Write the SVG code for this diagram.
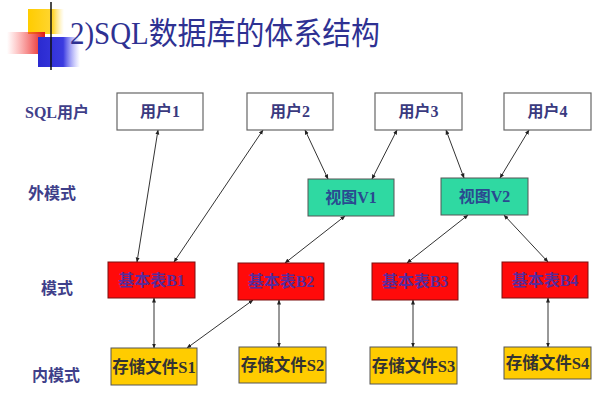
<svg xmlns="http://www.w3.org/2000/svg" width="600" height="410" viewBox="0 0 600 410">
<defs>
<linearGradient id="gRed" x1="0" y1="0" x2="1" y2="0"><stop offset="0" stop-color="#ff4040" stop-opacity="0"/><stop offset="1" stop-color="#e01818"/></linearGradient>
<linearGradient id="gYel" x1="0" y1="0" x2="1" y2="0"><stop offset="0" stop-color="#ffcc00"/><stop offset="0.7" stop-color="#ffd633"/><stop offset="1" stop-color="#ffe680" stop-opacity="0"/></linearGradient>
<linearGradient id="gBlue" x1="0" y1="0" x2="1" y2="0"><stop offset="0" stop-color="#2a2ad0"/><stop offset="0.6" stop-color="#3b3be0"/><stop offset="1" stop-color="#8080ff" stop-opacity="0"/></linearGradient>
<linearGradient id="gLine" x1="0" y1="0" x2="1" y2="0"><stop offset="0" stop-color="#333"/><stop offset="0.5" stop-color="#888"/><stop offset="1" stop-color="#ccc" stop-opacity="0"/></linearGradient>
<marker id="ah" viewBox="0 0 10 10" refX="9" refY="5" markerWidth="5" markerHeight="5" orient="auto-start-reverse" markerUnits="userSpaceOnUse"><path d="M0,1 L10,5 L0,9 z" fill="#222"/></marker>
</defs>
<style>
.title{font-family:"Liberation Serif","Noto Sans CJK SC",serif;font-size:31px;fill:#2e3192}
.row{font-family:"Liberation Serif","Noto Sans CJK SC",serif;font-weight:bold;font-size:16px;fill:#3f3f8a;text-anchor:middle}
.lbl{font-family:"Liberation Serif","Noto Sans CJK SC",serif;font-weight:bold;font-size:16px;text-anchor:middle}
.user rect{fill:#fff;stroke:#666;stroke-width:1.2}
.user text{fill:#3a3a80}
.view rect{fill:#2fd9a2;stroke:#555;stroke-width:1}
.view text{fill:#2a4a90}
.base rect{fill:#ff0a0a;stroke:#7a1010;stroke-width:1}
.base text{fill:#5a2a9a}
.file rect{fill:#ffcc00;stroke:#555;stroke-width:1}
.file text{fill:#333;font-size:16.5px}
.conn line{stroke:#333;stroke-width:1;marker-start:url(#ah);marker-end:url(#ah)}
</style>
<rect width="600" height="410" fill="#fff"/>
<g id="decor">
<rect x="28" y="9" width="36" height="25" fill="url(#gYel)"/>
<rect x="7" y="32" width="38" height="22" fill="url(#gRed)"/>
<rect x="38" y="37" width="42" height="30" fill="url(#gBlue)"/>
<line x1="29" y1="54.5" x2="600" y2="54.5" stroke="url(#gLine)" stroke-width="1.5"/>
<line x1="51" y1="2" x2="51" y2="70" stroke="#111" stroke-width="1.5"/>
</g>
<text class="title" x="70" y="44" textLength="310" lengthAdjust="spacingAndGlyphs">2)SQL数据库的体系结构</text>
<g id="rows">
<text class="row" x="57" y="118">SQL用户</text>
<text class="row" x="52" y="199">外模式</text>
<text class="row" x="57" y="294">模式</text>
<text class="row" x="56" y="381">内模式</text>
</g>
<g id="connectors" class="conn">
<line x1="158" y1="130" x2="137" y2="262"/>
<line x1="263" y1="130" x2="174" y2="262"/>
<line x1="305" y1="130" x2="328" y2="179"/>
<line x1="397" y1="130" x2="372" y2="179"/>
<line x1="446" y1="130" x2="464" y2="178"/>
<line x1="529" y1="130" x2="500" y2="178"/>
<line x1="345" y1="216" x2="285" y2="263"/>
<line x1="468" y1="215" x2="407" y2="263"/>
<line x1="504" y1="215" x2="548" y2="262"/>
<line x1="154" y1="298" x2="154" y2="348"/>
<line x1="253" y1="300" x2="187" y2="348"/>
<line x1="279" y1="300" x2="279" y2="347"/>
<line x1="413" y1="300" x2="413" y2="347"/>
<line x1="548" y1="298" x2="548" y2="347"/>
</g>
<g id="user1" class="user"><rect x="117" y="93" width="86" height="37"/><text class="lbl" x="160" y="117">用户1</text></g>
<g id="user2" class="user"><rect x="247" y="93" width="86" height="37"/><text class="lbl" x="290" y="117">用户2</text></g>
<g id="user3" class="user"><rect x="375" y="93" width="87" height="37"/><text class="lbl" x="418.5" y="117">用户3</text></g>
<g id="user4" class="user"><rect x="504" y="93" width="87" height="37"/><text class="lbl" x="547.5" y="117">用户4</text></g>
<g id="v1" class="view"><rect x="308" y="179" width="86" height="37"/><text class="lbl" x="351" y="203">视图V1</text></g>
<g id="v2" class="view"><rect x="441" y="178" width="87" height="37"/><text class="lbl" x="484.5" y="202">视图V2</text></g>
<g id="b1" class="base"><rect x="108" y="262" width="87" height="36"/><text class="lbl" x="151.5" y="286">基本表B1</text></g>
<g id="b2" class="base"><rect x="238" y="263" width="86" height="37"/><text class="lbl" x="281" y="287">基本表B2</text></g>
<g id="b3" class="base"><rect x="372" y="263" width="86" height="37"/><text class="lbl" x="415" y="287">基本表B3</text></g>
<g id="b4" class="base"><rect x="502" y="262" width="86" height="36"/><text class="lbl" x="545" y="286">基本表B4</text></g>
<g id="s1" class="file"><rect x="111" y="348" width="86" height="37"/><text class="lbl" x="154" y="373">存储文件S1</text></g>
<g id="s2" class="file"><rect x="239" y="347" width="87" height="36"/><text class="lbl" x="282.5" y="371">存储文件S2</text></g>
<g id="s3" class="file"><rect x="370" y="347" width="87" height="37"/><text class="lbl" x="413.5" y="372">存储文件S3</text></g>
<g id="s4" class="file"><rect x="504" y="347" width="87" height="32"/><text class="lbl" x="547.5" y="369">存储文件S4</text></g>
</svg>
